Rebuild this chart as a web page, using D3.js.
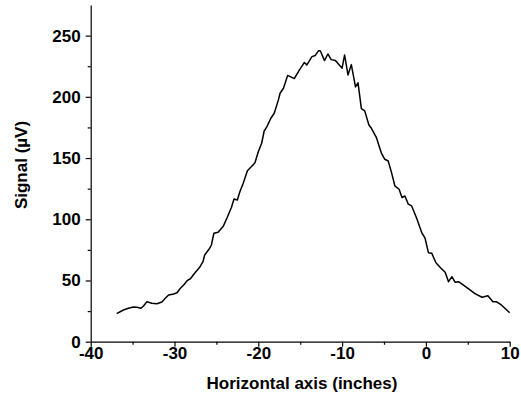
<!DOCTYPE html>
<html>
<head>
<meta charset="utf-8">
<script src="https://cdn.jsdelivr.net/npm/d3@7"></script>
<style>
	body { margin: 0; background: #fff; }
	svg { display: block; }
	.axis text { font-family: "Liberation Sans", Arial, sans-serif; font-weight: bold; font-size: 17px; fill: #000; }
	.axis path, .axis line { stroke: #000; stroke-width: 1.2px; }
	.title { font-family: "Liberation Sans", Arial, sans-serif; font-weight: bold; font-size: 17px; }
</style>
</head>
<body>
<svg id="chart" width="521" height="406"></svg>
<script>
// position along the axis (inches)
let position = [
	-36.9, -36.1, -35.5, -34.9, -34.5, -34.0, -33.7, -33.3, -32.7, -32.1,
	-31.5, -31.1, -30.7, -30.1, -29.7, -29.3, -28.9, -28.5, -28.1, -27.6,
	-27.0, -26.6, -26.4, -25.8, -25.6, -25.3, -24.8, -24.2, -23.7, -23.2,
	-22.9, -22.5, -22.2, -21.8, -21.3, -20.9, -20.4, -20.0, -19.6, -19.3,
	-19.0, -18.5, -18.1, -17.6, -17.4, -17.0, -16.5, -15.7, -15.2, -14.5,
	-14.2, -13.6, -13.2, -12.8, -12.6, -12.1, -11.7, -11.3, -10.8, -10.0,
	-9.7, -9.3, -8.9, -8.4, -8.1, -7.7, -7.3, -6.8, -6.5, -5.9,
	-5.5, -5.3, -4.9, -4.5, -4.1, -3.7, -3.2, -2.85, -2.5, -2.1,
	-1.7, -1.1, -0.5, -0.1, 0.3, 0.7, 1.2, 1.8, 2.3, 2.7,
	3.1, 3.5, 3.9, 4.9, 5.9, 6.7, 7.4, 8.0, 8.4, 9.0, 10.0
];

// measured signal (microvolts)
let signal = [
	23.0, 25.9, 27.3, 28.3, 28.1, 27.3, 29.2, 32.7, 31.4, 31.0,
	32.4, 35.5, 38.2, 39.0, 40.0, 43.6, 46.3, 49.8, 51.4, 55.9,
	60.8, 65.4, 70.8, 76.3, 79.0, 88.6, 89.4, 94.0, 101.6, 109.8,
	116.6, 115.8, 122.5, 129.4, 139.7, 142.5, 146.2, 155.2, 162.1, 172.1,
	175.2, 182.5, 186.6, 197.5, 202.9, 207.0, 217.5, 214.9, 220.8, 228.1,
	226.1, 232.8, 233.8, 237.7, 237.7, 229.6, 235.0, 230.4, 229.6, 223.4,
	234.2, 217.9, 226.3, 208.1, 211.4, 190.3, 188.5, 177.0, 174.3, 166.6,
	158.0, 153.9, 149.0, 147.6, 138.1, 127.2, 124.5, 117.8, 119.0, 112.3,
	110.9, 100.8, 89.1, 84.5, 72.7, 72.2, 64.5, 60.0, 56.7, 49.0,
	53.1, 48.5, 49.0, 44.1, 39.0, 36.3, 37.6, 32.7, 32.7, 30.0, 23.7
];

let xTicks = [-40, -30, -20, -10, 0, 10];
let xMinorTicks = [-35, -25, -15, -5, 5];
let yTicks = [0, 50, 100, 150, 200, 250];
let yMinorTicks = [25, 75, 125, 175, 225];

let margin = {left: 90.7, right: 11.3, top: 5, bottom: 64.3};
let width = 521 - margin.left - margin.right;
let height = 406 - margin.top - margin.bottom;

let svg = d3.select('#chart');
let g = svg.append('g')
	.attr('transform', 'translate(' + margin.left + ',' + margin.top + ')');

let x = d3.scaleLinear().domain([-40, 10]).range([0, width]);
let y = d3.scaleLinear().domain([0, 275]).range([height, 0]);

// plain hyphen for negatives, like the original
let fmt = function(d) { return String(d); };

// minor ticks
g.append('g')
	.attr('class', 'axis')
	.attr('transform', 'translate(0,' + height + ')')
	.call(d3.axisBottom(x).tickValues(xMinorTicks).tickSize(3).tickFormat(''))
	.select('.domain').remove();

g.append('g')
	.attr('class', 'axis')
	.call(d3.axisLeft(y).tickValues(yMinorTicks).tickSize(3).tickFormat(''))
	.select('.domain').remove();

// major ticks
g.append('g')
	.attr('class', 'axis')
	.attr('transform', 'translate(0,' + height + ')')
	.call(d3.axisBottom(x).tickValues(xTicks).tickSize(5).tickPadding(0).tickSizeOuter(0).tickFormat(fmt));

g.append('g')
	.attr('class', 'axis')
	.call(d3.axisLeft(y).tickValues(yTicks).tickSize(5).tickPadding(5).tickSizeOuter(0).tickFormat(fmt));

let line = d3.line()
	.x(function(d, i) { return x(position[i]); })
	.y(function(d) { return y(d); });

g.append('path')
	.datum(signal)
	.attr('d', line)
	.attr('fill', 'none')
	.attr('stroke', '#000')
	.attr('stroke-width', 1.5)
	.attr('stroke-linejoin', 'round');

// axis titles
svg.append('text')
	.attr('class', 'title')
	.attr('x', 302)
	.attr('y', 389)
	.attr('text-anchor', 'middle')
	.text('Horizontal axis (inches)');

svg.append('text')
	.attr('class', 'title')
	.attr('transform', 'translate(27,165) rotate(-90)')
	.attr('text-anchor', 'middle')
	.text('Signal (µV)');
</script>
</body>
</html>
